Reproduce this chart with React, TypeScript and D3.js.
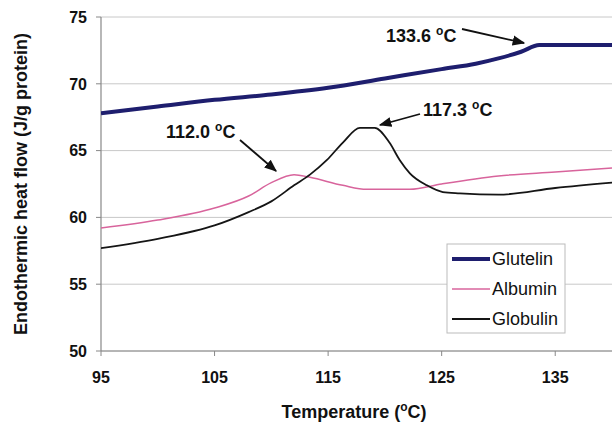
import React from "react"
import * as d3 from "d3"

// values
const gluTemp = [95, 100, 105, 110, 115, 120, 125, 128, 130, 132, 133.6, 135, 140]
const gluFlow = [67.8, 68.3, 68.8, 69.2, 69.7, 70.4, 71.1, 71.5, 71.9, 72.4, 72.9, 72.9, 72.9]

const albTemp = [95, 100, 105, 108, 110, 112, 113.4, 116.3, 118.4, 122.2, 125, 130, 135, 140]
const albFlow = [59.2, 59.8, 60.7, 61.6, 62.6, 63.2, 63.0, 62.4, 62.1, 62.1, 62.5, 63.1, 63.4, 63.7]

const globTemp = [95, 100, 105, 108, 110, 112, 113.4, 114.9, 116.3, 117.8, 119.1, 120.4, 121.3, 122.2, 123.7, 125.1, 126.6, 130, 135, 140]
const globFlow = [57.7, 58.4, 59.4, 60.4, 61.2, 62.4, 63.2, 64.3, 65.6, 66.7, 66.7, 65.6, 64.3, 63.3, 62.4, 61.9, 61.8, 61.7, 62.2, 62.6]

const xTicks = [95, 105, 115, 125, 135]
const yTicks = [50, 55, 60, 65, 70, 75]

const seriesNames = ["Glutelin", "Albumin", "Globulin"]
const seriesColors = ["#1e1e6e", "#d8649c", "#151515"]
const seriesWidths = [4, 1.5, 1.8]

// annotations: label, text position, arrow start/end in pixels
const notes = [
    { label: "133.6 ", tx: 386, ty: 42, from: [462, 29], to: [524, 43] },
    { label: "117.3 ", tx: 423, ty: 116, from: [420, 114], to: [380, 125] },
    { label: "112.0 ", tx: 166, ty: 138, from: [240, 140], to: [276, 171] },
]

const font = "'Liberation Sans', Arial, sans-serif"

export default function App() {
    const x = d3.scaleLinear().domain([95, 140]).range([101, 612])
    const y = d3.scaleLinear().domain([50, 75]).range([351, 17])

    const line = d3
        .line<[number, number]>()
        .x(d => x(d[0]))
        .y(d => y(d[1]))
        .curve(d3.curveMonotoneX)

    const data = [
        gluTemp.map((t, i) => [t, gluFlow[i]] as [number, number]),
        albTemp.map((t, i) => [t, albFlow[i]] as [number, number]),
        globTemp.map((t, i) => [t, globFlow[i]] as [number, number]),
    ]

    return (
        <svg width={612} height={422} style={{ position: "absolute", left: 0, top: 0, background: "#fff" }}>
            <defs>
                <marker id="arr" viewBox="0 0 10 10" refX="9" refY="5" markerWidth="7" markerHeight="7" orient="auto">
                    <path d="M0,1 L10,5 L0,9 z" fill="#111" />
                </marker>
                <clipPath id="plot">
                    <rect x={101} y={10} width={511} height={345} />
                </clipPath>
            </defs>

            {/* gridlines */}
            {yTicks.map(t => (
                <line key={t} x1={101} x2={612} y1={y(t)} y2={y(t)} stroke="#c8c8c8" strokeWidth={1} />
            ))}

            {/* axes */}
            <line x1={101} x2={101} y1={y(75)} y2={y(50)} stroke="#888" strokeWidth={1.2} />
            <line x1={101} x2={612} y1={y(50)} y2={y(50)} stroke="#888" strokeWidth={1.2} />
            {yTicks.map(t => (
                <line key={t} x1={96} x2={101} y1={y(t)} y2={y(t)} stroke="#888" />
            ))}
            {xTicks.map(t => (
                <line key={t} x1={x(t)} x2={x(t)} y1={y(50)} y2={y(50) + 5} stroke="#888" />
            ))}

            {/* tick labels */}
            <g fontFamily={font} fontWeight="bold" fontSize={16} fill="#111">
                {yTicks.map(t => (
                    <text key={t} x={87} y={y(t)} dy="0.36em" textAnchor="end">{t}</text>
                ))}
                {xTicks.map(t => (
                    <text key={t} x={x(t)} y={383} textAnchor="middle">{t}</text>
                ))}
            </g>

            {/* axis titles */}
            <text x={354} y={418} textAnchor="middle" fontFamily={font} fontWeight="bold" fontSize={18} fill="#111">
                Temperature (<tspan fontSize={12} dy={-7}>o</tspan><tspan dy={7}>C)</tspan>
            </text>
            <text transform="translate(27,184) rotate(-90)" textAnchor="middle" fontFamily={font} fontWeight="bold" fontSize={18} fill="#111">
                Endothermic heat flow (J/g protein)
            </text>

            {/* series */}
            <g clipPath="url(#plot)">
                {data.map((d, i) => (
                    <path key={i} d={line(d) || ""} fill="none" stroke={seriesColors[i]} strokeWidth={seriesWidths[i]} strokeLinejoin="round" />
                ))}
            </g>

            {/* annotations */}
            <g fontFamily={font} fontWeight="bold" fontSize={18} fill="#111">
                {notes.map((n, i) => (
                    <g key={i}>
                        <text x={n.tx} y={n.ty}>
                            {n.label}<tspan fontSize={12} dy={-7}>o</tspan><tspan dy={7}>C</tspan>
                        </text>
                        <line x1={n.from[0]} y1={n.from[1]} x2={n.to[0]} y2={n.to[1]} stroke="#111" strokeWidth={1.8} markerEnd="url(#arr)" />
                    </g>
                ))}
            </g>

            {/* legend */}
            <rect x={447} y={244} width={118} height={89} fill="#fff" stroke="#bbb" strokeWidth={1} />
            {seriesNames.map((s, i) => (
                <g key={s}>
                    <line x1={452} x2={490} y1={259 + i * 30} y2={259 + i * 30} stroke={seriesColors[i]} strokeWidth={seriesWidths[i]} />
                    <text x={492} y={259 + i * 30} dy="0.36em" fontFamily={font} fontSize={18} fill="#111">{s}</text>
                </g>
            ))}
        </svg>
    )
}
